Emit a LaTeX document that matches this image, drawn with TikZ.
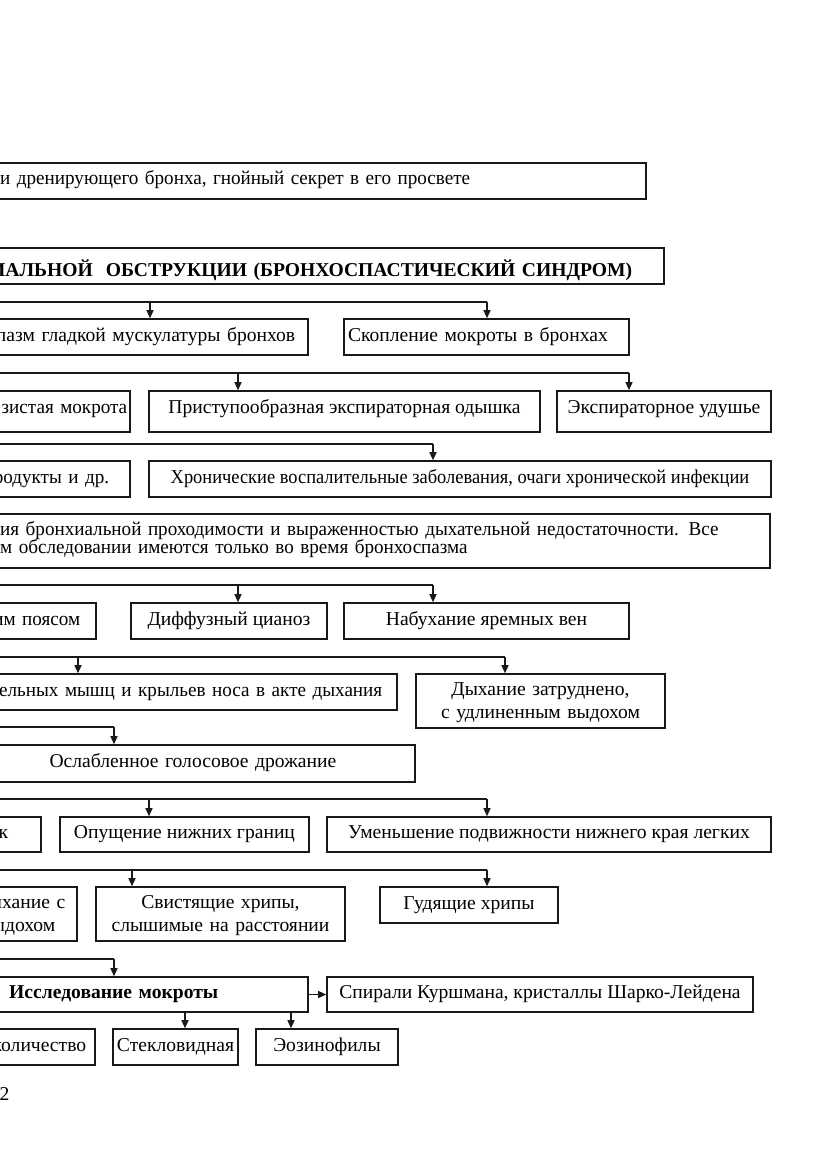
\documentclass[tikz,border=0pt]{standalone}
\usepackage{fontspec}
\setmainfont{Liberation Serif}
\newfontfamily\narrowA{Liberation Serif}[FakeStretch=0.94]
\newfontfamily\narrowB{Liberation Serif}[FakeStretch=0.975]
\usetikzlibrary{arrows.meta}
\begin{document}
\begin{tikzpicture}[x=1pt,y=-1pt,
  every node/.style={font=\fontsize{19.6}{23}\selectfont},
  box/.style={draw=black!90, line width=1.6pt, inner ysep=0pt, inner xsep=3pt, text height=12pt, text depth=4pt},
  bold/.style={font=\fontsize{19.6}{23}\selectfont\bfseries},
  narrow/.style={font=\narrowB\fontsize{19.6}{23}\selectfont},
  conn/.style={draw=black!90, line width=1.3pt},
  arr/.style={conn, -{Triangle[length=8pt,width=7pt]}}]
\useasboundingbox (0,0) rectangle (831,1174);
\fill[white] (0,0) rectangle (831,1174);
\clip (0,0) rectangle (831,1174);

% Row A
\node[box, narrow, anchor=east, minimum height=36pt, text width=640pt, align=left, inner xsep=6pt] (b1) at (647,181) {и дренирующего бронха, гнойный секрет в его просвете};
% Title
\node[box, bold, anchor=east, minimum height=36pt, text width=700pt, align=right, inner xsep=32pt, text height=24pt] (t1) at (665,266) {ИАЛЬНОЙ\ \ ОБСТРУКЦИИ (БРОНХОСПАСТИЧЕСКИЙ СИНДРОМ)};

% Row C
\node[box, anchor=east, minimum height=36pt, text width=330pt, align=right, inner xsep=13pt] (c1) at (309,337) {пазм гладкой мускулатуры бронхов};
\node[box, minimum height=36pt, minimum width=285pt, text width=277pt, align=left, inner xsep=4pt] (c2) at (486.5,337) {Скопление мокроты в бронхах};

% Row D
\node[box, narrow, anchor=east, minimum height=41pt, text width=150pt, align=right, inner xsep=3pt, text height=7pt] (d1) at (131,411.5) {зистая мокрота};
\node[box, minimum height=41pt, minimum width=391pt, text height=7pt] (d2) at (344.5,411.5) {Приступообразная экспираторная одышка};
\node[box, minimum height=41pt, minimum width=214pt, text height=7pt] (d3) at (664,411.5) {Экспираторное удушье};

% Row E
\node[box, narrow, anchor=east, minimum height=36pt, text width=150pt, align=right, inner xsep=21pt] (e1) at (131,479) {родукты и др.};
\node[box, minimum height=36pt, minimum width=622pt, font=\narrowA\fontsize{19.6}{23}\selectfont] (e2) at (460,479) {Хронические воспалительные заболевания, очаги хронической инфекции};

% Row F
\node[box, anchor=east, minimum height=54pt, text width=764pt, align=left, inner xsep=6pt, text height=10pt, text depth=22pt, font=\narrowB\fontsize{19.6}{18.5}\selectfont] (f1) at (771,541) {ия бронхиальной проходимости и выраженностью дыхательной недостаточности. Все\\м обследовании имеются только во время бронхоспазма};

% Row G
\node[box, narrow, anchor=east, minimum height=36pt, text width=120pt, align=right, inner xsep=16pt] (g1) at (97,621) {им поясом};
\node[box, minimum height=36pt, minimum width=196pt] (g2) at (229,621) {Диффузный цианоз};
\node[box, minimum height=36pt, minimum width=285pt] (g3) at (486.5,621) {Набухание яремных вен};

% Row H
\node[box, narrow, anchor=east, minimum height=36pt, text width=420pt, align=right, inner xsep=15pt] (h1) at (398,692) {тельных мышц и крыльев носа в акте дыхания};
\node[box, minimum height=54pt, minimum width=249pt, text width=240pt, align=center, inner xsep=4.5pt, text height=16pt, text depth=27pt] (h2) at (540.5,701) {Дыхание затруднено,\\с удлиненным выдохом};

% Row I
\node[box, anchor=east, minimum height=37pt, text width=440pt, align=right, inner xsep=79pt] (i1) at (416,763.5) {Ослабленное голосовое дрожание};

% Row J
\node[box, anchor=east, minimum height=35pt, text width=60pt, align=right, inner xsep=33pt] (j1) at (42,834.5) {к};
\node[box, minimum height=35pt, minimum width=249pt] (j2) at (184.5,834.5) {Опущение нижних границ};
\node[box, minimum height=35pt, minimum width=444pt] (j3) at (549,834.5) {Уменьшение подвижности нижнего края легких};

% Row K
\node[box, anchor=east, minimum height=54pt, text width=100pt, align=right, inner xsep=12pt, text height=16pt, text depth=27pt] (k1) at (78,914) {ыхание с\\ыдохом\rule{10pt}{0pt}};
\node[box, minimum height=54pt, minimum width=249pt, text width=240pt, align=center, inner xsep=4.5pt, text height=16pt, text depth=27pt] (k2) at (220.5,914) {Свистящие хрипы,\\слышимые на расстоянии};
\node[box, minimum height=36pt, minimum width=178pt] (k3) at (469,905) {Гудящие хрипы};

% Row M
\node[box, bold, anchor=east, minimum height=35pt, text width=340pt, align=left, inner xsep=6pt, text height=11pt] (m1) at (309,994.5) {\hspace*{47pt}Исследование мокроты};
\node[box, minimum height=35pt, minimum width=426pt, text height=11pt] (m2) at (540,994.5) {Спирали Куршмана, кристаллы Шарко-Лейдена};

% Row N
\node[box, anchor=east, minimum height=36pt, text width=120pt, align=right, inner xsep=9pt] (n1) at (96,1047) {количество};
\node[box, minimum height=36pt, minimum width=125pt, inner xsep=1pt] (n2) at (175.5,1047) {Стекловидная};
\node[box, minimum height=36pt, minimum width=142pt] (n3) at (327,1047) {Эозинофилы};

\node[anchor=base west, inner sep=0pt] (pg) at (-0.5,1100) {2};

% connectors
\coordinate (h1s) at (-5,302); \coordinate (a1a) at (150,302); \coordinate (a1b) at (487,302);
\draw[conn] (h1s) -- (a1b);
\draw[arr] (a1a) -- (a1a |- c1.north);
\draw[arr] (a1b) -- (a1b |- c2.north);

\coordinate (h2s) at (-5,373); \coordinate (a2a) at (238,373); \coordinate (a2b) at (629,373);
\draw[conn] (h2s) -- (a2b);
\draw[arr] (a2a) -- (a2a |- d2.north);
\draw[arr] (a2b) -- (a2b |- d3.north);

\coordinate (h3s) at (-5,444); \coordinate (a3a) at (433,444);
\draw[conn] (h3s) -- (a3a);
\draw[arr] (a3a) -- (a3a |- e2.north);

\coordinate (h4s) at (-5,585); \coordinate (a4a) at (238,585); \coordinate (a4b) at (433,585);
\draw[conn] (h4s) -- (a4b);
\draw[arr] (a4a) -- (a4a |- g2.north);
\draw[arr] (a4b) -- (a4b |- g3.north);

\coordinate (h5s) at (-5,657); \coordinate (a5a) at (78,657); \coordinate (a5b) at (505,657);
\draw[conn] (h5s) -- (a5b);
\draw[arr] (a5a) -- (a5a |- h1.north);
\draw[arr] (a5b) -- (a5b |- h2.north);

\coordinate (h6s) at (-5,727); \coordinate (a6a) at (114,727);
\draw[conn] (h6s) -- (a6a);
\draw[arr] (a6a) -- (a6a |- i1.north);

\coordinate (h7s) at (-5,799); \coordinate (a7a) at (149,799); \coordinate (a7b) at (487,799);
\draw[conn] (h7s) -- (a7b);
\draw[arr] (a7a) -- (a7a |- j2.north);
\draw[arr] (a7b) -- (a7b |- j3.north);

\coordinate (h8s) at (-5,870); \coordinate (a8a) at (132,870); \coordinate (a8b) at (487,870);
\draw[conn] (h8s) -- (a8b);
\draw[arr] (a8a) -- (a8a |- k2.north);
\draw[arr] (a8b) -- (a8b |- k3.north);

\coordinate (h9s) at (-5,959); \coordinate (a9a) at (114,959);
\draw[conn] (h9s) -- (a9a);
\draw[arr] (a9a) -- (a9a |- m1.north);

\draw[arr] (m1.east) -- (m2.west);
\coordinate (x185) at (185,0); \coordinate (x291) at (291,0);
\draw[arr] (m1.south -| x185) -- (x185 |- n2.north);
\draw[arr] (m1.south -| x291) -- (x291 |- n3.north);
\end{tikzpicture}
\end{document}
